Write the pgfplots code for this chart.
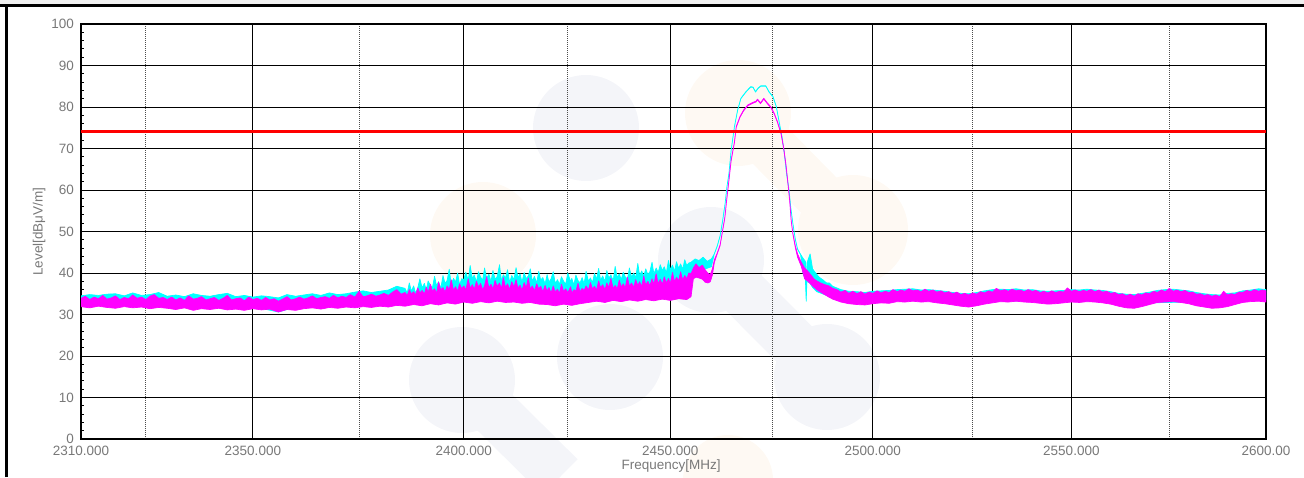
\documentclass[border=0pt]{standalone}
\usepackage{pgfplots}
\usepackage{pgfplotstable}
\pgfplotsset{compat=1.18}
\usepackage{fontspec}
\setmainfont{Liberation Sans}
\definecolor{ticktxt}{RGB}{120,120,120}
\definecolor{mag}{RGB}{255,0,255}
\definecolor{cyn}{RGB}{0,255,255}
\definecolor{wmb}{RGB}{244,245,249}
\definecolor{wmo}{RGB}{254,249,243}
% ---------- cyan trace: upper envelope ----------
\pgfplotstableread[row sep=\\]{x y\\
2310 34.5\\ 2312 34.8\\ 2314 34.6\\ 2316 34.9\\ 2318 35.0\\ 2320 34.5\\ 2322 35.2\\ 2324 34.6\\ 2326 34.8\\ 2328 35.3\\
2330 34.4\\ 2332 34.7\\ 2334 34.3\\ 2336 35.0\\ 2338 34.6\\ 2340 34.4\\ 2342 34.8\\ 2344 35.1\\ 2346 34.3\\ 2348 34.6\\
2350 34.2\\ 2352 34.5\\ 2354 34.3\\ 2356 34.0\\ 2358 34.8\\ 2360 34.4\\ 2362 34.7\\ 2364 35.0\\ 2366 34.6\\ 2368 35.2\\
2370 34.8\\ 2372 35.0\\ 2374 35.4\\ 2376 35.7\\ 2378 35.3\\ 2380 35.6\\ 2382 35.9\\ 2384 36.8\\
2386.0 36.3\\ 2386.5 35.2\\ 2387.0 37.6\\ 2387.5 35.6\\ 2388.0 36.9\\ 2388.5 35.1\\ 2389.0 36.4\\ 2389.5 38.6\\
2390.0 36.4\\ 2390.5 37.5\\ 2391.0 35.9\\ 2391.5 38.1\\ 2392.0 37.0\\ 2392.5 36.4\\ 2393.0 39.2\\ 2393.5 36.9\\ 2394.0 37.9\\ 2394.5 36.3\\
2395.0 39.4\\ 2395.5 37.5\\ 2396.0 38.2\\ 2396.5 40.9\\ 2397.0 37.3\\ 2397.5 38.7\\ 2398.0 37.8\\ 2398.5 40.0\\ 2399.0 37.1\\ 2399.5 38.6\\
2400.0 38.4\\ 2400.5 40.2\\ 2401.0 38.2\\ 2401.5 41.8\\ 2402.0 38.6\\ 2402.5 39.5\\ 2403.0 37.9\\ 2403.5 40.3\\ 2404.0 39.0\\ 2404.5 38.3\\
2405.0 41.2\\ 2405.5 38.7\\ 2406.0 39.7\\ 2406.5 37.9\\ 2407.0 40.6\\ 2407.5 38.5\\ 2408.0 39.1\\ 2408.5 42.0\\ 2409.0 38.1\\ 2409.5 39.6\\
2410.0 38.8\\ 2410.5 40.8\\ 2411.0 37.7\\ 2411.5 39.4\\ 2412.0 38.4\\ 2412.5 41.3\\ 2413.0 38.9\\ 2413.5 39.8\\ 2414.0 37.8\\ 2414.5 40.1\\
2415.0 38.6\\ 2415.5 39.3\\ 2416.0 41.0\\ 2416.5 38.0\\ 2417.0 39.2\\ 2417.5 37.6\\ 2418.0 40.4\\ 2418.5 38.3\\ 2419.0 38.9\\ 2419.5 37.4\\
2420.0 39.6\\ 2420.5 37.8\\ 2421.0 38.6\\ 2421.5 40.3\\ 2422.0 37.5\\ 2422.5 38.4\\ 2423.0 37.2\\ 2423.5 39.1\\ 2424.0 38.0\\ 2424.5 37.3\\
2425.0 40.0\\ 2425.5 37.9\\ 2426.0 38.7\\ 2426.5 37.1\\ 2427.0 39.5\\ 2427.5 38.2\\ 2428.0 37.6\\ 2428.5 38.9\\ 2429.0 37.4\\ 2429.5 40.4\\
2430.0 38.0\\ 2430.5 38.8\\ 2431.0 37.7\\ 2431.5 39.9\\ 2432.0 38.5\\ 2432.5 41.1\\ 2433.0 38.2\\ 2433.5 39.3\\ 2434.0 38.0\\ 2434.5 40.6\\
2435.0 38.7\\ 2435.5 39.6\\ 2436.0 38.1\\ 2436.5 41.6\\ 2437.0 38.9\\ 2437.5 39.8\\ 2438.0 38.4\\ 2438.5 40.2\\ 2439.0 39.1\\ 2439.5 38.5\\
2440.0 41.2\\ 2440.5 39.0\\ 2441.0 40.0\\ 2441.5 38.8\\ 2442.0 42.3\\ 2442.5 39.4\\ 2443.0 40.5\\ 2443.5 39.2\\ 2444.0 41.0\\ 2444.5 39.6\\
2445.0 40.3\\ 2445.5 42.6\\ 2446.0 39.8\\ 2446.5 41.2\\ 2447.0 40.1\\ 2447.5 42.0\\ 2448.0 40.6\\ 2448.5 41.5\\ 2449.0 40.0\\ 2449.5 43.0\\
2450.0 40.8\\ 2450.5 41.9\\ 2451.0 40.4\\ 2451.5 42.7\\ 2452.0 41.1\\ 2452.5 42.2\\ 2453.0 40.9\\ 2453.5 43.2\\ 2454.0 41.8\\ 2454.5 42.4\\
2455.0 42.6\\ 2456.0 43.4\\ 2457.0 43.0\\ 2458.0 43.8\\ 2459.0 42.8\\ 2460.0 43.4\\
2460.7 44.5\\ 2461.5 46.5\\ 2462.2 49.0\\ 2462.8 52.5\\ 2463.4 56.8\\ 2463.9 60.8\\ 2464.3 64.0\\ 2464.9 69.6\\
2465.7 75.3\\ 2466.5 79.3\\ 2467.3 82.1\\ 2468.5 83.7\\ 2469.7 84.9\\ 2470.3 84.8\\ 2470.9 83.7\\ 2471.5 84.6\\
2472.2 85.1\\ 2473.4 85.1\\ 2474.2 83.7\\ 2475.2 82.5\\ 2476.0 80.1\\ 2476.7 76.5\\ 2477.4 72.8\\ 2478.0 68.8\\
2478.6 64.0\\ 2479.2 60.0\\ 2479.6 55.8\\ 2480.1 52.0\\ 2480.7 48.2\\ 2481.3 45.8\\ 2482.0 44.5\\
2482.6 43.6\\ 2483.2 42.8\\ 2483.4 33.2\\ 2483.6 42.4\\ 2484.4 44.6\\ 2485.0 41.0\\ 2485.8 40.0\\ 2486.6 39.0\\
2487.5 38.4\\ 2488.5 37.6\\ 2489.2 37.6\\ 2490 36.8\\
2492 36.0\\ 2494 35.6\\ 2496 35.5\\ 2498 35.3\\ 2500 35.6\\ 2502 35.7\\ 2504 35.8\\ 2506 36.0\\ 2508 36.1\\ 2510 36.2\\
2512 35.9\\ 2514 36.0\\ 2516 35.8\\ 2518 35.6\\ 2520 35.3\\ 2522 35.1\\ 2524 35.0\\ 2526 35.3\\ 2528 35.7\\ 2530 36.0\\
2532 36.1\\ 2534 36.0\\ 2536 36.2\\ 2538 35.9\\ 2540 36.0\\ 2542 35.7\\ 2544 35.6\\ 2546 35.7\\ 2548 35.8\\ 2550 36.0\\
2552 35.9\\ 2554 36.1\\ 2556 35.9\\ 2558 35.8\\ 2560 35.5\\ 2562 35.1\\ 2564 34.9\\ 2566 34.8\\ 2568 35.1\\ 2570 35.4\\
2572 35.8\\ 2574 36.0\\ 2576 36.1\\ 2578 35.9\\ 2580 35.7\\ 2582 35.3\\ 2584 35.0\\ 2586 34.8\\ 2588 34.7\\ 2590 35.1\\
2592 35.2\\ 2594 35.7\\ 2596 35.9\\ 2598 36.2\\ 2600 36.0\\
}\cyanHi
% ---------- cyan trace: lower envelope ----------
\pgfplotstableread[row sep=\\]{x y\\
2310 32.3\\ 2320 32.2\\ 2330 32.0\\ 2340 31.8\\ 2350 31.9\\ 2356 30.6\\ 2360 31.8\\ 2370 32.0\\ 2380 32.5\\
2390 32.8\\ 2400 33.5\\ 2410 33.5\\ 2420 33.0\\ 2430 33.4\\ 2440 34.0\\ 2450 34.2\\ 2454 35.0\\
2455.0 38.0\\ 2456.0 40.5\\ 2458.0 40.8\\ 2460.0 41.5\\
2460.7 44.4\\ 2461.5 46.4\\ 2462.2 48.9\\ 2462.8 52.4\\ 2463.4 56.7\\ 2463.9 60.7\\ 2464.3 63.9\\ 2464.9 69.5\\
2465.7 75.2\\ 2466.5 79.2\\ 2467.3 82.0\\ 2468.5 83.6\\ 2469.7 84.8\\ 2470.3 84.7\\ 2470.9 83.6\\ 2471.5 84.5\\
2472.2 85.0\\ 2473.4 85.0\\ 2474.2 83.6\\ 2475.2 82.4\\ 2476.0 80.0\\ 2476.7 76.4\\ 2477.4 72.7\\ 2478.0 68.7\\
2478.6 63.9\\ 2479.2 59.9\\ 2479.6 55.7\\ 2480.1 51.9\\ 2480.7 48.1\\ 2481.3 45.7\\ 2482.0 44.4\\
2482.6 40.0\\ 2483.2 38.5\\ 2483.4 33.2\\ 2483.6 38.0\\ 2484.4 37.5\\ 2485.0 36.5\\ 2486.0 35.5\\ 2488.0 34.8\\
2490 34.0\\ 2500 33.2\\ 2510 33.6\\ 2520 32.8\\ 2530 33.2\\ 2540 33.3\\ 2550 33.4\\ 2560 33.0\\ 2565 32.2\\ 2570 32.8\\
2580 33.0\\ 2588 32.2\\ 2595 33.4\\ 2600 33.5\\
}\cyanLo
% ---------- magenta trace: upper envelope ----------
\pgfplotstableread[row sep=\\]{x y\\
2310 33.9\\ 2311 34.4\\ 2312 33.6\\ 2313 34.2\\ 2314 33.8\\ 2315 34.6\\ 2316 33.7\\ 2317 34.0\\ 2318 34.5\\ 2319 33.6\\
2320 34.1\\ 2321 33.8\\ 2322 34.7\\ 2323 33.9\\ 2324 34.2\\ 2325 33.6\\ 2326 34.4\\ 2327 34.8\\ 2328 33.9\\ 2329 34.1\\
2330 33.6\\ 2331 34.2\\ 2332 33.5\\ 2333 34.0\\ 2334 33.4\\ 2335 34.5\\ 2336 33.7\\ 2337 33.9\\ 2338 34.3\\ 2339 33.5\\
2340 33.8\\ 2341 34.1\\ 2342 33.4\\ 2343 33.9\\ 2344 34.6\\ 2345 33.5\\ 2346 33.8\\ 2347 34.0\\ 2348 33.3\\ 2349 34.2\\
2350 33.6\\ 2351 33.9\\ 2352 33.4\\ 2353 34.1\\ 2354 33.5\\ 2355 33.8\\ 2356 33.2\\ 2357 33.7\\ 2358 34.3\\ 2359 33.5\\
2360 33.8\\ 2361 34.2\\ 2362 33.7\\ 2363 34.0\\ 2364 34.5\\ 2365 33.8\\ 2366 34.1\\ 2367 34.3\\ 2368 33.9\\ 2369 34.6\\
2370 34.0\\ 2371 34.4\\ 2372 34.1\\ 2373 34.8\\ 2374 34.2\\ 2375 35.6\\ 2376 34.3\\ 2377 34.5\\ 2378 34.9\\ 2379 34.4\\
2380 34.7\\ 2381 35.1\\ 2382 34.6\\ 2383 35.4\\ 2384 36.0\\ 2385 34.9\\
2386.0 35.3\\ 2386.5 34.6\\ 2387.0 36.0\\ 2387.5 34.9\\ 2388.0 35.5\\ 2388.5 34.7\\ 2389.0 36.4\\ 2389.5 35.2\\
2390.0 35.8\\ 2390.5 34.9\\ 2391.0 36.6\\ 2391.5 35.3\\ 2392.0 37.3\\ 2392.5 35.6\\ 2393.0 36.2\\ 2393.5 35.1\\ 2394.0 37.8\\ 2394.5 35.9\\
2395.0 36.5\\ 2395.5 35.4\\ 2396.0 36.9\\ 2396.5 36.0\\ 2397.0 38.4\\ 2397.5 35.8\\ 2398.0 36.7\\ 2398.5 35.6\\ 2399.0 37.4\\ 2399.5 36.2\\
2400.0 36.9\\ 2400.5 35.9\\ 2401.0 38.6\\ 2401.5 36.3\\ 2402.0 37.2\\ 2402.5 36.0\\ 2403.0 38.0\\ 2403.5 36.6\\ 2404.0 37.5\\ 2404.5 35.9\\
2405.0 37.0\\ 2405.5 39.1\\ 2406.0 36.4\\ 2406.5 37.3\\ 2407.0 36.1\\ 2407.5 38.2\\ 2408.0 36.8\\ 2408.5 37.6\\ 2409.0 36.2\\ 2409.5 38.9\\
2410.0 36.5\\ 2410.5 37.4\\ 2411.0 36.0\\ 2411.5 37.9\\ 2412.0 36.6\\ 2412.5 38.4\\ 2413.0 36.3\\ 2413.5 37.1\\ 2414.0 35.8\\ 2414.5 37.7\\
2415.0 36.4\\ 2415.5 38.8\\ 2416.0 36.1\\ 2416.5 36.9\\ 2417.0 35.7\\ 2417.5 37.4\\ 2418.0 36.2\\ 2418.5 36.8\\ 2419.0 35.5\\ 2419.5 37.0\\
2420.0 35.6\\ 2420.5 36.5\\ 2421.0 35.2\\ 2421.5 36.9\\ 2422.0 35.4\\ 2422.5 36.1\\ 2423.0 35.0\\ 2423.5 37.3\\ 2424.0 35.5\\ 2424.5 36.2\\
2425.0 35.3\\ 2425.5 36.7\\ 2426.0 35.1\\ 2426.5 36.0\\ 2427.0 35.6\\ 2427.5 37.5\\ 2428.0 35.4\\ 2428.5 36.3\\ 2429.0 35.8\\ 2429.5 36.9\\
2430.0 35.9\\ 2430.5 37.7\\ 2431.0 36.2\\ 2431.5 36.8\\ 2432.0 35.9\\ 2432.5 38.1\\ 2433.0 36.4\\ 2433.5 37.2\\ 2434.0 36.0\\ 2434.5 37.6\\
2435.0 36.5\\ 2435.5 38.7\\ 2436.0 36.3\\ 2436.5 37.0\\ 2437.0 36.1\\ 2437.5 38.3\\ 2438.0 36.6\\ 2438.5 37.4\\ 2439.0 36.4\\ 2439.5 39.0\\
2440.0 36.8\\ 2440.5 37.6\\ 2441.0 36.5\\ 2441.5 38.4\\ 2442.0 37.0\\ 2442.5 37.9\\ 2443.0 36.7\\ 2443.5 39.3\\ 2444.0 37.1\\ 2444.5 38.0\\
2445.0 36.9\\ 2445.5 38.6\\ 2446.0 37.3\\ 2446.5 39.8\\ 2447.0 37.4\\ 2447.5 38.5\\ 2448.0 37.2\\ 2448.5 39.1\\ 2449.0 37.6\\ 2449.5 38.7\\
2450.0 37.5\\ 2450.5 40.1\\ 2451.0 37.9\\ 2451.5 39.0\\ 2452.0 38.1\\ 2452.5 40.3\\ 2453.0 38.3\\ 2453.5 39.4\\ 2454.0 38.6\\ 2454.5 40.0\\
2455.0 39.8\\ 2455.6 41.2\\ 2456.2 42.2\\ 2457.0 41.3\\ 2457.8 41.9\\ 2458.5 40.8\\ 2459.2 39.9\\ 2459.8 39.6\\
2460.3 41.0\\ 2460.8 43.2\\ 2461.5 44.8\\ 2462.2 46.8\\ 2462.8 50.2\\ 2463.3 53.4\\ 2463.8 57.6\\ 2464.3 62.4\\
2464.9 67.2\\ 2465.7 71.6\\ 2466.2 75.3\\ 2467.1 77.7\\ 2468.0 79.3\\ 2469.0 80.5\\ 2470.2 81.1\\ 2471.0 81.4\\
2471.4 81.9\\ 2472.1 81.0\\ 2472.9 82.1\\ 2473.9 80.9\\ 2474.7 80.1\\ 2475.5 78.5\\ 2476.3 76.5\\ 2477.2 73.7\\
2477.8 70.4\\ 2478.4 66.2\\ 2478.8 62.6\\ 2479.3 57.6\\ 2479.7 52.8\\ 2480.1 49.6\\ 2480.7 46.6\\ 2481.3 44.6\\
2482.2 42.6\\ 2483.0 41.2\\ 2483.8 40.4\\ 2484.5 39.6\\ 2485.3 38.6\\ 2486.0 38.1\\ 2487.0 37.6\\ 2488 37.2\\
2489 36.9\\ 2490 36.3\\
2491 36.0\\ 2492 35.4\\ 2493 35.8\\ 2494 35.1\\ 2495 35.6\\ 2496 35.0\\ 2497 35.5\\ 2498 34.9\\ 2499 35.4\\ 2500 35.1\\
2501 35.7\\ 2502 35.2\\ 2503 35.6\\ 2504 35.3\\ 2505 36.0\\ 2506 35.5\\ 2507 35.9\\ 2508 35.6\\ 2509 36.2\\ 2510 35.7\\
2511 35.9\\ 2512 35.5\\ 2513 36.1\\ 2514 35.6\\ 2515 35.9\\ 2516 35.4\\ 2517 35.7\\ 2518 35.2\\ 2519 35.5\\ 2520 35.0\\
2521 35.4\\ 2522 34.8\\ 2523 35.1\\ 2524 34.7\\ 2525 35.2\\ 2526 34.9\\ 2527 35.5\\ 2528 35.2\\ 2529 35.7\\ 2530 35.4\\
2531 36.3\\ 2532 35.7\\ 2533 36.0\\ 2534 35.6\\ 2535 36.1\\ 2536 35.7\\ 2537 35.9\\ 2538 35.5\\ 2539 36.0\\ 2540 35.6\\
2541 35.8\\ 2542 35.3\\ 2543 35.6\\ 2544 35.2\\ 2545 35.7\\ 2546 35.3\\ 2547 35.6\\ 2548 35.4\\ 2549 36.4\\ 2550 35.6\\
2551 35.9\\ 2552 35.5\\ 2553 35.8\\ 2554 35.6\\ 2555 36.0\\ 2556 35.5\\ 2557 35.9\\ 2558 35.4\\ 2559 35.6\\ 2560 35.1\\
2561 35.3\\ 2562 34.8\\ 2563 35.0\\ 2564 34.5\\ 2565 34.9\\ 2566 34.4\\ 2567 35.0\\ 2568 34.7\\ 2569 35.2\\ 2570 35.0\\
2571 35.6\\ 2572 35.3\\ 2573 35.9\\ 2574 35.5\\ 2575 36.3\\ 2576 35.6\\ 2577 35.9\\ 2578 35.5\\ 2579 35.8\\ 2580 35.3\\
2581 35.4\\ 2582 34.9\\ 2583 35.0\\ 2584 34.6\\ 2585 34.8\\ 2586 34.4\\ 2587 34.7\\ 2588 34.3\\ 2589 35.6\\ 2590 34.7\\
2591 35.0\\ 2592 34.8\\ 2593 35.4\\ 2594 35.3\\ 2595 35.8\\ 2596 35.5\\ 2597 36.0\\ 2598 35.6\\ 2599 35.9\\ 2600 35.7\\
}\magHi
% ---------- magenta trace: lower envelope ----------
\pgfplotstableread[row sep=\\]{x y\\
2310 31.9\\ 2312 31.6\\ 2314 32.0\\ 2316 31.7\\ 2318 31.5\\ 2320 31.9\\ 2322 31.6\\ 2324 31.8\\ 2326 31.4\\ 2328 31.7\\
2330 31.5\\ 2332 31.2\\ 2334 31.6\\ 2336 31.0\\ 2338 31.4\\ 2340 31.2\\ 2342 31.5\\ 2344 31.1\\ 2346 31.3\\ 2348 31.0\\
2350 31.4\\ 2352 31.1\\ 2354 31.3\\ 2356 30.6\\ 2358 31.2\\ 2360 31.0\\ 2362 31.4\\ 2364 31.6\\ 2366 31.3\\ 2368 31.7\\
2370 31.5\\ 2372 31.8\\ 2374 31.6\\ 2376 31.9\\ 2378 31.7\\ 2380 32.0\\ 2382 31.8\\ 2384 32.2\\ 2386 32.0\\ 2388 32.4\\
2390 32.1\\ 2392 32.6\\ 2394 32.3\\ 2396 32.8\\ 2398 32.5\\ 2400 33.0\\ 2402 32.7\\ 2404 33.1\\ 2406 32.8\\ 2408 33.2\\
2410 32.9\\ 2412 33.0\\ 2414 32.7\\ 2416 32.9\\ 2418 32.5\\ 2420 32.4\\ 2422 32.1\\ 2424 32.5\\ 2426 32.2\\ 2428 32.6\\
2430 32.9\\ 2432 33.2\\ 2434 32.9\\ 2436 33.4\\ 2438 33.1\\ 2440 33.5\\ 2442 33.2\\ 2444 33.6\\ 2446 33.3\\ 2448 33.7\\
2450 33.4\\ 2452 33.8\\ 2454 33.6\\
2455.0 34.3\\ 2455.6 38.6\\ 2456.2 39.0\\ 2457.0 38.8\\ 2457.8 38.5\\ 2458.5 37.8\\ 2459.2 37.6\\ 2459.8 37.9\\
2460.3 39.5\\ 2460.8 42.6\\ 2461.5 44.6\\ 2462.2 46.6\\ 2462.8 50.0\\ 2463.3 53.2\\ 2463.8 57.4\\ 2464.3 62.2\\
2464.9 67.0\\ 2465.7 71.4\\ 2466.2 75.1\\ 2467.1 77.5\\ 2468.0 79.1\\ 2469.0 80.3\\ 2470.2 80.9\\ 2471.0 81.2\\
2471.4 81.7\\ 2472.1 80.8\\ 2472.9 81.9\\ 2473.9 80.7\\ 2474.7 79.9\\ 2475.5 78.3\\ 2476.3 76.3\\ 2477.2 73.5\\
2477.8 70.2\\ 2478.4 66.0\\ 2478.8 62.4\\ 2479.3 57.4\\ 2479.7 52.6\\ 2480.1 49.4\\ 2480.7 46.2\\ 2481.3 43.8\\
2482.2 41.6\\ 2483.0 38.6\\ 2483.8 38.0\\ 2484.5 37.3\\ 2485.3 36.6\\ 2486.0 36.0\\ 2487.0 35.4\\ 2488 34.8\\
2489 34.2\\ 2490 33.7\\
2492 33.0\\ 2494 32.6\\ 2496 32.4\\ 2498 32.3\\ 2500 32.6\\ 2502 32.8\\ 2504 32.7\\ 2506 33.1\\ 2508 33.0\\ 2510 33.2\\
2512 33.0\\ 2514 33.1\\ 2516 32.8\\ 2518 32.6\\ 2520 32.3\\ 2522 32.0\\ 2524 31.8\\ 2526 32.1\\ 2528 32.5\\ 2530 32.8\\
2532 33.1\\ 2534 33.0\\ 2536 33.2\\ 2538 33.0\\ 2540 32.9\\ 2542 32.7\\ 2544 32.5\\ 2546 32.6\\ 2548 32.8\\ 2550 33.0\\
2552 32.9\\ 2554 33.1\\ 2556 33.0\\ 2558 32.8\\ 2560 32.5\\ 2562 32.0\\ 2564 31.6\\ 2566 31.5\\ 2568 31.9\\ 2570 32.4\\
2572 32.9\\ 2574 33.0\\ 2576 33.1\\ 2578 32.9\\ 2580 32.6\\ 2582 32.1\\ 2584 31.8\\ 2586 31.5\\ 2588 31.6\\ 2590 31.9\\
2592 32.4\\ 2594 32.9\\ 2596 33.1\\ 2598 33.2\\ 2600 33.0\\
}\magLo
% each trace is drawn as one band: upper envelope forwards, lower envelope backwards
\pgfplotstablesort[sort key=x, sort cmp={float >}]{\cyanLoRev}{\cyanLo}
\pgfplotstablesort[sort key=x, sort cmp={float >}]{\magLoRev}{\magLo}
\pgfplotstablevertcat{\cyanHi}{\cyanLoRev}
\pgfplotstablevertcat{\magHi}{\magLoRev}
\begin{document}
\begin{tikzpicture}[x=1pt,y=1pt]
\path[use as bounding box] (0,0) rectangle (1304,477);
% faint background watermark (logo)
\draw[wmo, line width=50pt] (738,364)--(853,247);
\fill[wmo] (738,364) circle (53);
\fill[wmo] (853,247) circle (55);
\fill[wmo] (483,242) circle (53);
\fill[wmo] (728,-3) circle (45);
\fill[wmb] (586,349) circle (53);
\draw[wmb, line width=50pt] (711,217)--(827,100);
\draw[wmb, line width=50pt] (462,97)--(560,0);
\fill[wmb] (711,217) circle (53);
\fill[wmb] (827,100) circle (53);
\fill[wmb] (610,120) circle (53);
\fill[wmb] (462,97) circle (53);
% frame
\fill[gray!12] (0,471.3) rectangle (1304,477);
\draw[line width=3pt] (0,471.3)--(1304,471.3);
\draw[line width=3pt] (6.7,0)--(6.7,471.3);
\begin{axis}[
  at={(81pt,38pt)}, anchor=south west, scale only axis,
  width=1185pt, height=415pt,
  % logarithmic frequency axis, done as a user transformation
  x coord trafo/.code={\begingroup\pgfkeys{/pgf/fpu=true}\pgfmathparse{ln(#1/2310)*1000}\pgfmathfloattofixed{\pgfmathresult}\pgfmathsmuggle\pgfmathresult\endgroup},
  xmin=2310, xmax=2600, ymin=0, ymax=100,
  xtick={2310,2350,2400,2450,2500,2550,2600},
  xticklabels={2310.000,2350.000,2400.000,2450.000,2500.000,2550.000,2600.00},
  minor xtick={2325,2375,2425,2475,2525,2575},
  ytick={0,10,...,100},
  minor ytick={2,4,6,8,12,14,16,18,22,24,26,28,32,34,36,38,42,44,46,48,52,54,56,58,62,64,66,68,72,74,76,78,82,84,86,88,92,94,96,98},
  /pgf/number format/assume math mode=true,
  xmajorgrids=true, xminorgrids=true, ymajorgrids=true, yminorgrids=false,
  major grid style={black, line width=0.8pt},
  minor grid style={black!70, line width=1pt, densely dotted},
  xtick style={draw=none},
  ytick pos=left,
  tick align=inside,
  major tick length=4pt, minor tick length=3pt,
  ytick style={black, line width=0.8pt},
  axis line style={black, line width=1.3pt},
  tick label style={font=\fontsize{13.5}{15}\selectfont, color=ticktxt},
  xticklabel style={yshift=-3.5pt},
  yticklabel style={xshift=-3.5pt},
  xlabel={Frequency[MHz]},
  xlabel style={at={(axis description cs:0.498,0)}, anchor=base, yshift=-30pt, font=\fontsize{13.5}{15}\selectfont, color=ticktxt},
  ylabel={Level[dBμV/m]},
  ylabel style={at={(axis description cs:-0.0354,0.5)}, anchor=center, font=\fontsize{13.5}{15}\selectfont, color=ticktxt},
]
\addplot[draw=cyn, fill=cyn, line width=0.7pt, line join=round] table[x=x, y=y] {\cyanHi};
\addplot[draw=mag, fill=mag, line width=0.7pt, line join=round] table[x=x, y=y] {\magHi};
\addplot[red, line width=3pt] coordinates {(2310,74) (2600,74)};
\end{axis}
\end{tikzpicture}
\end{document}
